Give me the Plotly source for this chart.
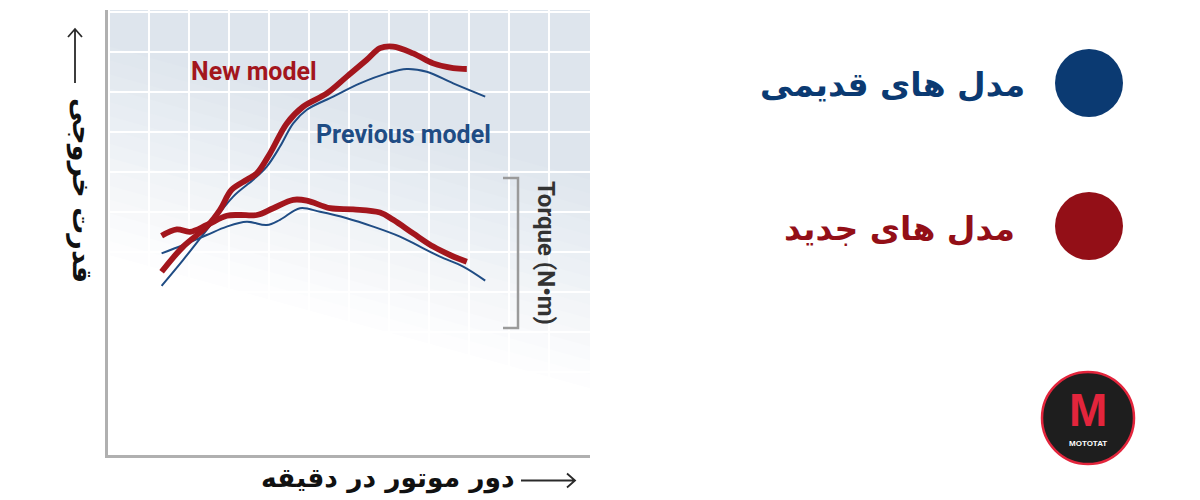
import plotly.graph_objects as go

# ---------------- data (arbitrary engine-speed / output units) ----------------
rpm_new_power = [1.34, 1.88, 2.47, 2.80, 3.09, 3.47, 3.72, 4.05, 4.47, 4.88, 5.47, 5.97, 6.47, 6.80, 7.13, 7.63, 8.13, 8.63, 8.97]
new_power = [4.58, 5.21, 5.71, 6.13, 6.63, 6.88, 7.04, 7.54, 8.29, 8.71, 9.04, 9.46, 9.88, 10.17, 10.21, 10.04, 9.79, 9.67, 9.65]

rpm_prev_power = [1.34, 1.88, 2.47, 3.13, 3.63, 3.97, 4.30, 4.63, 4.97, 5.63, 6.30, 6.97, 7.47, 7.97, 8.63, 9.43]
prev_power = [4.23, 4.88, 5.63, 6.46, 6.88, 7.21, 7.71, 8.29, 8.63, 8.96, 9.29, 9.54, 9.65, 9.58, 9.29, 8.96]

rpm_new_torque = [1.34, 1.72, 2.05, 2.47, 2.97, 3.30, 3.72, 4.13, 4.63, 4.97, 5.55, 6.13, 6.80, 7.13, 7.63, 8.13, 8.55, 8.97]
new_torque = [5.48, 5.64, 5.58, 5.75, 5.98, 6.00, 6.00, 6.17, 6.38, 6.36, 6.17, 6.14, 6.06, 5.88, 5.54, 5.21, 5.00, 4.83]

rpm_prev_torque = [1.34, 1.88, 2.47, 2.97, 3.47, 3.97, 4.30, 4.80, 5.30, 5.97, 6.63, 7.30, 7.80, 8.30, 8.88, 9.43]
prev_torque = [5.04, 5.25, 5.50, 5.71, 5.83, 5.75, 5.88, 6.17, 6.08, 5.92, 5.71, 5.46, 5.21, 4.96, 4.71, 4.36]

series_labels = ["مدل های قدیمی", "مدل های جدید"]
x_title = "دور موتور در دقیقه"
y_title = "قدرت خروجی"
torque_label = "Torque (N•m)"

# ---------------- style ----------------
RED = "#a3161d"
BLUE = "#1f4c84"
LEG_BLUE = "#0b3a72"
LEG_RED = "#930f17"
OFF = 8  # page body margin
W, H = 1200, 500
PLOT_L, PLOT_T, PLOT_R, PLOT_B = 108, 10, 590, 455   # target on-screen plot box
L, T = PLOT_L - OFF, PLOT_T - OFF
PW, PH = PLOT_R - PLOT_L, PLOT_B - PLOT_T
R, B = W - L - PW, H - T - PH


def px(xp):
    return (xp - PLOT_L) / PW


def py(yp):
    return (PLOT_B - yp) / PH


LAT = "Roboto, Liberation Sans"
FA = "DejaVu Sans"

fig = go.Figure()

fig.add_trace(go.Scatter(x=rpm_prev_power, y=prev_power, mode="lines", name=series_labels[0],
                         line=dict(color=BLUE, width=2, shape="spline", smoothing=1.0), showlegend=False))
fig.add_trace(go.Scatter(x=rpm_prev_torque, y=prev_torque, mode="lines", name=series_labels[0] + " (torque)",
                         line=dict(color=BLUE, width=2, shape="spline", smoothing=1.0), showlegend=False))
fig.add_trace(go.Scatter(x=rpm_new_power, y=new_power, mode="lines", name=series_labels[1],
                         line=dict(color=RED, width=5.8, shape="spline", smoothing=1.0), showlegend=False))
fig.add_trace(go.Scatter(x=rpm_new_torque, y=new_torque, mode="lines", name=series_labels[1] + " (torque)",
                         line=dict(color=RED, width=5.8, shape="spline", smoothing=1.0), showlegend=False))

shapes = []

# diagonal background gradient (light blue-grey top-right fading to white bottom-left), opaque bands
N = 16
slope = 0.3
top_rgb = (222, 229, 237)
for i in range(N):
    t = i / N
    frac = (i + 1) / N
    col = "rgb({},{},{})".format(*[round(255 - (255 - c) * frac) for c in top_rgb])
    v0 = 0.45 + 0.5 * t
    v1 = v0 - slope
    if v1 >= 1:
        continue
    pts = []
    if v0 <= 1:
        pts.append((0, v0))
        pts.append((0, 1))
    else:
        pts.append(((v0 - 1) / slope, 1))
    pts.append((1, 1))
    pts.append((1, max(v1, 0)))
    if v1 < 0:
        pts.append((v0 / slope, 0))
    path = "M " + " L ".join(f"{a:.4f},{b:.4f}" for a, b in pts) + " Z"
    shapes.append(dict(type="path", path=path, xref="paper", yref="paper",
                       fillcolor=col, line=dict(width=0), layer="below"))

# torque bracket
bx, btop, bbot, btick = 518, 178, 328, 503
shapes.append(dict(type="path", xref="paper", yref="paper",
                   path=f"M {px(btick)},{py(btop)} L {px(bx)},{py(btop)} L {px(bx)},{py(bbot)} L {px(btick)},{py(bbot)}",
                   line=dict(color="#9a9a9a", width=2.5)))

# x axis arrow
shapes.append(dict(type="path", xref="paper", yref="paper",
                   path=f"M {px(521)},{py(480.5)} L {px(575)},{py(480.5)} M {px(567)},{py(473.5)} L {px(575)},{py(480.5)} L {px(567)},{py(487.5)}",
                   line=dict(color="#2a2a2a", width=1.8)))
# y axis arrow
shapes.append(dict(type="path", xref="paper", yref="paper",
                   path=f"M {px(75)},{py(83)} L {px(75)},{py(29)} M {px(68)},{py(37)} L {px(75)},{py(29)} L {px(82)},{py(37)}",
                   line=dict(color="#2a2a2a", width=1.8)))

# legend circles
for cy, col in [(83, LEG_BLUE), (226, LEG_RED)]:
    shapes.append(dict(type="circle", xref="paper", yref="paper",
                       x0=px(1055), x1=px(1123), y0=py(cy + 34), y1=py(cy - 34),
                       fillcolor=col, line=dict(width=0)))

# logo
shapes.append(dict(type="circle", xref="paper", yref="paper",
                   x0=px(1042), x1=px(1134), y0=py(464), y1=py(372),
                   fillcolor="#1e1e1e", line=dict(color="#e3253c", width=2.5)))


def ann(text, x, y, size, color, family, xanchor="center", angle=0):
    return dict(text=text, x=px(x), y=py(y), xref="paper", yref="paper", showarrow=False,
                xanchor=xanchor, yanchor="middle", textangle=angle,
                font=dict(family=family, size=size, color=color))


annotations = [
    ann("<b>New model</b>", 254, 72, 25, RED, LAT),
    ann("<b>Previous model</b>", 403, 134, 25, BLUE, LAT),
    ann(f"<b>{torque_label}</b>", 546, 253, 24, "#333333", LAT, angle=90),
    ann(f"<b>{x_title}</b>", 388, 478, 26.5, "#111111", FA),
    ann(f"<b>{y_title}</b>", 82, 190, 27, "#111111", FA, angle=90),
    ann(f"<b>{series_labels[0]}</b>", 1027, 85, 33, LEG_BLUE, FA, xanchor="right"),
    ann(f"<b>{series_labels[1]}</b>", 1017, 228, 33, LEG_RED, FA, xanchor="right"),
    ann("<b>M</b>", 1088, 410, 46, "#e3253c", "Liberation Sans"),
    ann("<b>MOTOTAT</b>", 1088, 443, 8, "#ffffff", "Liberation Sans"),
]

fig.update_layout(
    width=W, height=H,
    margin=dict(l=L, r=R, t=T, b=B, pad=0),
    paper_bgcolor="white", plot_bgcolor="white",
    shapes=shapes, annotations=annotations,
    showlegend=False,
)
fig.update_xaxes(range=[0, PW / 40], tick0=1.03, dtick=1, showgrid=True, gridcolor="white", gridwidth=2,
                 showticklabels=False, ticks="", zeroline=False,
                 showline=True, linecolor="#b0b0b0", linewidth=3)
fig.update_yaxes(range=[0, PH / 40], tick0=0.08, dtick=1, showgrid=True, gridcolor="white", gridwidth=2,
                 showticklabels=False, ticks="", zeroline=False,
                 showline=True, linecolor="#b0b0b0", linewidth=3)

fig.write_html("out.html")
